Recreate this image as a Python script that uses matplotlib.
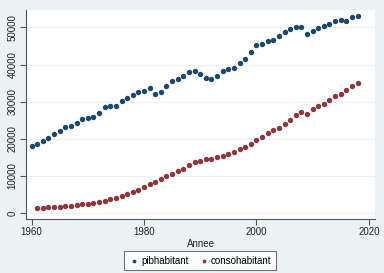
import matplotlib
matplotlib.use("Agg")
import matplotlib.pyplot as plt

plt.rcParams['font.family'] = ['Liberation Sans', 'DejaVu Sans']

# annees
annee_pib = list(range(1960, 2019))
annee_conso = list(range(1961, 2019))

pibhabitant = [18000, 18600, 19500, 20200, 21300, 22150, 23200, 23500, 24300, 25200,
               25550, 25800, 26900, 28450, 28950, 28850, 30250, 30900, 31700, 32500,
               32800, 33600, 32100, 32500, 34300, 35500, 36000, 36900, 38100, 38200,
               37500, 36500, 36200, 37000, 38300, 38800, 39000, 40350, 41500, 43300,
               45200, 45500, 46400, 46700, 47700, 48700, 49600, 50200, 50100, 48100,
               49100, 49900, 50300, 50900, 51800, 51900, 51800, 52800, 53100]

consohabitant = [1430, 1450, 1530, 1600, 1700, 1800, 1890, 2070, 2340,
                 2510, 2700, 2960, 3230, 3680, 4130, 4670, 5120, 5660, 6290,
                 6920, 7820, 8360, 9080, 9890, 10600, 11240, 11940, 13050, 13660,
                 14100, 14470, 14640, 15090, 15440, 15900, 16360, 17170, 17870, 18680,
                 19800, 20480, 21430, 22290, 22990, 23990, 25070, 26330, 27300, 26770,
                 28030, 28840, 29460, 30380, 31450, 32160, 33070, 34150, 35040]

x_ticks = [1960, 1980, 2000, 2020]
y_ticks = [0, 10000, 20000, 30000, 40000, 50000]

bg = '#eaf2f3'
bleu = '#1a476f'
rouge = '#90353b'

fig = plt.figure(figsize=(3.84, 2.73), dpi=100, facecolor=bg)
ax = fig.add_axes([26/384, 54/273, 349/384, 209/273])
ax.set_facecolor('white')

ax.scatter(annee_pib, pibhabitant, s=15, color=bleu, linewidths=0, label='pibhabitant', zorder=3)
ax.scatter(annee_conso, consohabitant, s=15, color=rouge, linewidths=0, label='consohabitant', zorder=3)

ax.set_xlim(1959.0, 2021.1)
ax.set_ylim(-1620, 54700)
ax.set_xticks(x_ticks)
ax.set_yticks(y_ticks)
ax.grid(axis='y', color=bg, linewidth=0.8)
ax.set_axisbelow(True)

for s in ['top', 'right']:
    ax.spines[s].set_visible(False)
for s in ['left', 'bottom']:
    ax.spines[s].set_color('#555555')
    ax.spines[s].set_linewidth(0.8)

ax.tick_params(axis='both', labelsize=7, color='#555555', length=4, width=0.8, labelcolor='#222222')
ax.tick_params(axis='x', pad=2)
ax.tick_params(axis='y', pad=2)
for lab in ax.get_yticklabels():
    lab.set_rotation(90)
    lab.set_va('center')

ax.set_xlabel('Annee', fontsize=7, color='#222222', labelpad=1)

leg = fig.legend(loc='center', bbox_to_anchor=(200/384, 1 - 260.5/273), ncol=2, fontsize=7,
                 frameon=True, fancybox=False, edgecolor='#555555', facecolor='white',
                 handletextpad=0.1, columnspacing=1.0, borderpad=0.45, markerscale=0.7,
                 handlelength=1.2)
leg.get_frame().set_linewidth(0.8)

fig.savefig('out.png', dpi=100, facecolor=bg)
